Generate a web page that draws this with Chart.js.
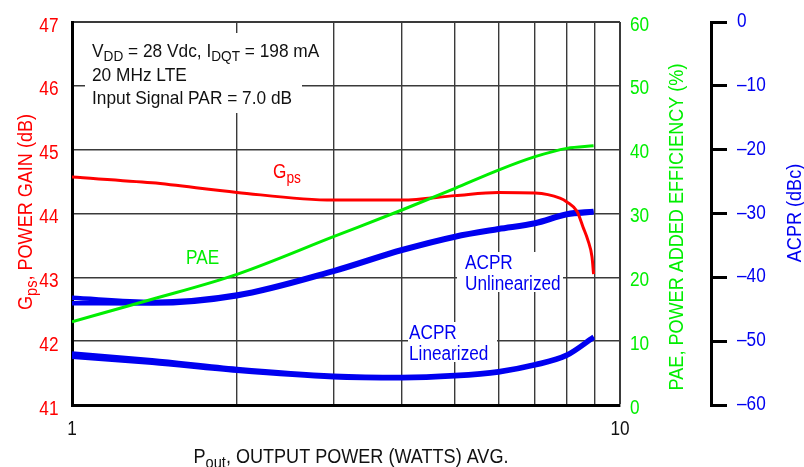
<!DOCTYPE html>
<html>
<head>
<meta charset="utf-8">
<script src="https://cdn.jsdelivr.net/npm/chart.js@4.4.1/dist/chart.umd.min.js"></script>
<style>
    html, body { margin: 0; padding: 0; background: #fff; }
    #wrap { width: 804px; height: 467px; }
</style>
</head>
<body>
<div id="wrap"><canvas id="chart" width="804" height="467"></canvas></div>
<script>
// Gps / PAE / ACPR versus output power (log x)

// x grid lines, one per watt
const xTicks = [1, 2, 3, 4, 5, 6, 7, 8, 9, 10];
const xLabels = [1, 10];

// power gain (dB)
const gpsWatts = [1, 1.4, 2, 3, 4, 5, 6, 7, 7.77, 8.0, 8.35, 8.56, 8.74, 8.89, 8.95];
const gpsDb    = [44.57, 44.48, 44.33, 44.21, 44.21, 44.28, 44.33, 44.32, 44.24, 44.18, 44.03, 43.79, 43.58, 43.32, 43.05];

// power added efficiency (%)
const paeWatts = [1, 1.4, 2, 3, 4, 5, 6, 7, 8, 8.95];
const paePct   = [13.05, 16.56, 20.47, 26.37, 30.55, 33.95, 36.8, 38.9, 40.2, 40.6];

// ACPR (dBc), each curve is two traces close together
const acprWatts  = [1, 1.4, 2, 3, 4, 5, 6, 7, 8, 8.95];
const acprUnlinA = [-43.2, -43.85, -42.7, -38.9, -35.6, -33.5, -32.3, -31.4, -30.0, -29.6];
const acprUnlinB = [-44.05, -44.1, -42.95, -39.15, -35.85, -33.75, -32.55, -31.65, -30.25, -29.85];
const acprLinA   = [-51.95, -53.0, -54.35, -55.4, -55.6, -55.3, -54.7, -53.6, -52.1, -49.3];
const acprLinB   = [-52.45, -53.4, -54.65, -55.65, -55.8, -55.5, -54.9, -53.8, -52.3, -49.5];

// axis ticks
const gpsTicks  = [41, 42, 43, 44, 45, 46, 47];
const paeTicks  = [0, 10, 20, 30, 40, 50, 60];
const acprTicks = [-60, -50, -40, -30, -20, -10, 0];

const RED = '#ff0000';
const GREEN = '#00ee00';
const BLUE = '#0000f0';
const INK = '#111';
const FONT = '"Liberation Sans", Arial, sans-serif';

function pts(xs, ys) {
    return xs.map((x, i) => ({ x: x, y: ys[i] }));
}

function setTicks(list) {
    return scale => { scale.ticks = list.map(v => ({ value: v })); };
}

function acprLabel(v) {
    return v === 0 ? '0' : '\u2013' + Math.abs(v);
}

// text with subscripts, squeezed horizontally (narrow helvetica look)
function drawRich(ctx, parts, x, y, size, color, align, k) {
    k = k || 0.86;
    const subSize = Math.round(size * 0.8);
    let w = 0;
    parts.forEach(p => {
        ctx.font = (p.sub ? subSize : size) + 'px ' + FONT;
        p.w = ctx.measureText(p.t).width;
        w += p.w;
    });
    let x0 = x;
    if (align === 'center') x0 = x - w * k / 2;
    if (align === 'right') x0 = x - w * k;
    ctx.save();
    ctx.translate(x0, y);
    ctx.scale(k, 1);
    ctx.fillStyle = color;
    ctx.textAlign = 'left';
    ctx.textBaseline = 'alphabetic';
    let cx = 0;
    parts.forEach(p => {
        ctx.font = (p.sub ? subSize : size) + 'px ' + FONT;
        ctx.fillText(p.t, cx, p.sub ? size * 0.23 : 0);
        cx += p.w;
    });
    ctx.restore();
    return w * k;
}

// white boxes behind the labels that sit on the grid
const labelBoxes = [
    [85, 33, 217, 80],
    [457, 252, 106, 40],
    [408, 322, 89, 40]
];

const labelPlugin = {
    id: 'labels',
    beforeDatasetsDraw(chart) {
        const ctx = chart.ctx;
        ctx.save();
        ctx.fillStyle = '#fff';
        labelBoxes.forEach(b => ctx.fillRect(b[0], b[1], b[2], b[3]));

        drawRich(ctx, [{ t: 'V' }, { t: 'DD', sub: true }, { t: ' = 28 Vdc, I' }, { t: 'DQT', sub: true }, { t: ' = 198 mA' }], 92, 57, 19, INK, 'left', 0.91);
        drawRich(ctx, [{ t: '20 MHz LTE' }], 92, 81, 19, INK, 'left', 0.91);
        drawRich(ctx, [{ t: 'Input Signal PAR = 7.0 dB' }], 92, 104, 19, INK, 'left', 0.91);

        drawRich(ctx, [{ t: 'G' }, { t: 'ps', sub: true }], 273, 178, 20, RED);
        drawRich(ctx, [{ t: 'PAE' }], 186, 264, 20, GREEN);
        drawRich(ctx, [{ t: 'ACPR' }], 465, 269, 20, BLUE);
        drawRich(ctx, [{ t: 'Unlinearized' }], 465, 290, 20, BLUE);
        drawRich(ctx, [{ t: 'ACPR' }], 409, 339, 20, BLUE);
        drawRich(ctx, [{ t: 'Linearized' }], 409, 360, 20, BLUE);
        ctx.restore();
    },
    afterDraw(chart) {
        const ctx = chart.ctx;
        const area = chart.chartArea;
        const s = chart.scales;
        ctx.save();

        // tick labels
        gpsTicks.forEach(v => drawRich(ctx, [{ t: String(v) }], area.left - 13.5, s.yG.getPixelForValue(v) + 9.5, 20, RED, 'right'));
        paeTicks.forEach(v => drawRich(ctx, [{ t: String(v) }], area.right + 10, s.yP.getPixelForValue(v) + 8.5, 20, GREEN, 'left'));
        acprTicks.forEach(v => drawRich(ctx, [{ t: acprLabel(v) }], s.yA.left + 26, s.yA.getPixelForValue(v) + 5, 20, BLUE, 'left'));
        xLabels.forEach(v => drawRich(ctx, [{ t: String(v) }], s.x.getPixelForValue(v), area.bottom + 30, 20, INK, 'center'));

        // axis titles
        drawRich(ctx, [{ t: 'P' }, { t: 'out', sub: true }, { t: ', OUTPUT POWER (WATTS) AVG.' }],
            (area.left + area.right) / 2 + 5, 463, 21, INK, 'center');

        const vert = (parts, x, y, color) => {
            ctx.save();
            ctx.translate(x, y);
            ctx.rotate(-Math.PI / 2);
            drawRich(ctx, parts, 0, 0, 21, color, 'center');
            ctx.restore();
        };
        vert([{ t: 'G' }, { t: 'ps', sub: true }, { t: ', POWER GAIN (dB)' }], 32, 212, RED);
        vert([{ t: 'PAE, POWER ADDED EFFICIENCY (%)' }], 683, 227, GREEN);
        vert([{ t: 'ACPR (dBc)' }], 801, 213, BLUE);
        ctx.restore();
    }
};

const lineStyle = {
    pointRadius: 0,
    fill: false,
    cubicInterpolationMode: 'monotone',
    borderCapStyle: 'butt'
};

new Chart(document.getElementById('chart'), {
    type: 'line',
    data: {
        datasets: [
            Object.assign({ label: 'PAE', data: pts(paeWatts, paePct), yAxisID: 'yP', borderColor: GREEN, borderWidth: 3 }, lineStyle),
            Object.assign({ label: 'Gps', data: pts(gpsWatts, gpsDb), yAxisID: 'yG', borderColor: RED, borderWidth: 3 }, lineStyle),
            Object.assign({ label: 'ACPR Unlinearized', data: pts(acprWatts, acprUnlinA), yAxisID: 'yA', borderColor: BLUE, borderWidth: 4.5 }, lineStyle),
            Object.assign({ label: 'ACPR Unlinearized 2', data: pts(acprWatts, acprUnlinB), yAxisID: 'yA', borderColor: BLUE, borderWidth: 4.5 }, lineStyle),
            Object.assign({ label: 'ACPR Linearized', data: pts(acprWatts, acprLinA), yAxisID: 'yA', borderColor: BLUE, borderWidth: 4.5 }, lineStyle),
            Object.assign({ label: 'ACPR Linearized 2', data: pts(acprWatts, acprLinB), yAxisID: 'yA', borderColor: BLUE, borderWidth: 4.5 }, lineStyle)
        ]
    },
    options: {
        responsive: false,
        animation: false,
        devicePixelRatio: 1,
        layout: { padding: { top: 22, left: 0, right: 0, bottom: 0 } },
        plugins: {
            legend: { display: false },
            tooltip: { enabled: false }
        },
        scales: {
            x: {
                type: 'logarithmic',
                min: 1,
                max: 10,
                afterBuildTicks: setTicks(xTicks),
                afterFit: s => { s.height = 62; },
                ticks: { display: false },
                grid: {
                    color: '#3a3a3a',
                    lineWidth: c => c.tick && c.tick.value === 10 ? 2 : 1.4,
                    drawTicks: false
                },
                border: { display: true, color: '#000', width: 3 }
            },
            yG: {
                position: 'left',
                min: 41,
                max: 47,
                afterBuildTicks: setTicks(gpsTicks),
                afterFit: s => { s.width = 72; },
                ticks: { display: false },
                grid: {
                    color: '#3a3a3a',
                    lineWidth: c => c.tick && c.tick.value === 47 ? 2 : 1.4,
                    drawTicks: false
                },
                border: { display: true, color: '#000', width: 3 }
            },
            yP: {
                position: 'right',
                min: 0,
                max: 60,
                afterBuildTicks: setTicks(paeTicks),
                afterFit: s => { s.width = 91; },
                ticks: { display: false },
                grid: { drawOnChartArea: false, drawTicks: false },
                border: { display: false }
            },
            yA: {
                position: 'right',
                min: -60,
                max: 0,
                afterBuildTicks: setTicks(acprTicks),
                afterFit: s => { s.width = 93; },
                ticks: { display: false },
                grid: {
                    drawOnChartArea: false,
                    drawTicks: true,
                    tickLength: 16,
                    color: '#000',
                    lineWidth: 3
                },
                border: { display: true, color: '#000', width: 3 }
            }
        }
    },
    plugins: [labelPlugin]
});
</script>
</body>
</html>
